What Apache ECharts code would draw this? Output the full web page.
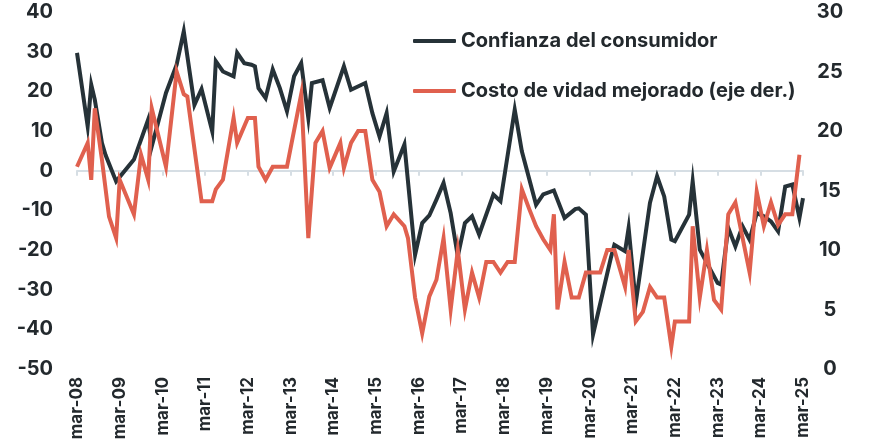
<!DOCTYPE html>
<html>
<head>
<meta charset="utf-8">
<script src="https://cdn.jsdelivr.net/npm/echarts@6/dist/echarts.min.js"></script>
<style>
  html, body { margin: 0; padding: 0; background: #fff; }
  #chart { width: 871px; height: 447px; }
</style>
</head>
<body>
<div id="chart"></div>
<script>
// months counted from mar-08 (0) to mar-25 (204)
var tickLabels = ['mar-08', 'mar-09', 'mar-10', 'mar-11', 'mar-12', 'mar-13', 'mar-14', 'mar-15', 'mar-16',
  'mar-17', 'mar-18', 'mar-19', 'mar-20', 'mar-21', 'mar-22', 'mar-23', 'mar-24', 'mar-25'];

// Confianza del consumidor (eje izq.)
var confMonths = [0, 3, 4, 5, 7, 8, 11, 16, 20, 21, 25, 28, 30, 33, 35, 38, 39, 41, 44, 45, 47, 49, 50,
  51, 53, 55, 57, 59, 61, 63, 65, 66, 69, 71, 75, 77, 81, 83, 85, 87, 89, 92, 95, 97, 99, 101, 103, 105,
  107, 109, 111, 113, 117, 119, 123, 125, 129, 131, 134, 137, 140, 141, 143, 145, 150, 151, 154, 155, 157,
  161, 163, 165, 167, 168, 172, 173, 175, 176, 180, 181, 183, 185, 187, 189, 191, 193, 195, 197, 199, 201,
  203, 204];
var confValues = [29.7, 11.2, 21.7, 17.9, 7, 4, -2.7, 2.8, 12.9, 6.1, 19.6, 26.7, 35.1, 16.6, 20.6, 9.9,
  27.6, 25, 23.8, 29.7, 27.1, 26.7, 26.3, 20.8, 18.3, 25.5, 20.8, 15, 23.8, 27.1, 13.3, 22.1, 22.8, 15.8,
  26.3, 20.4, 22.1, 14.5, 8.6, 14.5, -0.2, 6.6, -21.2, -13.2, -11.3, -7.3, -3.1, -10.7, -21.6, -13.2,
  -11.5, -16.1, -6, -7.7, 15.4, 4.9, -8.6, -6, -5, -11.9, -9.7, -9.5, -11.1, -41.3, -22, -18.7, -20.3,
  -14.4, -33.4, -8.1, -1.4, -6.5, -17.4, -17.8, -11.1, -2.7, -19.9, -21.6, -28.3, -28.7, -14.4, -19.1,
  -14, -17.4, -10.7, -11.5, -12.8, -15.3, -4, -3.5, -11.9, -6.9];

// Costo de vidad mejorado (eje der.)
var costMonths = [0, 3, 4, 5, 7, 9, 11, 12, 16, 18, 20, 21, 25, 28, 30, 31, 35, 38, 39, 41, 44, 45, 48,
  50, 51, 53, 55, 59, 63, 65, 67, 69, 71, 74, 75, 77, 79, 81, 83, 85, 87, 89, 92, 93, 95, 97, 99, 101,
  103, 105, 107, 109, 111, 113, 115, 117, 119, 121, 123, 125, 127, 129, 131, 133, 134, 135, 137, 139,
  141, 143, 147, 149, 151, 154, 155, 157, 159, 161, 163, 165, 167, 168, 172, 173, 175, 177, 179, 181,
  183, 185, 189, 191, 193, 195, 197, 199, 201, 203];
var costValues = [17, 19, 15.9, 21.9, 17.6, 12.8, 11, 15.9, 13, 18, 15.9, 21.9, 17, 25, 23.1, 22.9,
  14.1, 14.1, 15.1, 15.9, 21.1, 19, 21.1, 21.1, 17, 15.9, 17, 17, 23.1, 11, 19, 20, 16.9, 19, 16.9, 19,
  20, 20, 15.9, 14.9, 12, 13, 12, 11, 6, 3, 6.1, 7.5, 11, 5, 10, 5, 8.1, 6, 9, 9, 8.1, 9, 9, 15.1, 13.5,
  12, 10.9, 10, 13, 5, 9, 6, 6, 8.1, 8.1, 10, 10, 6.9, 10, 4, 4.8, 6.9, 6, 6, 1.9, 4, 4, 12, 6, 10, 5.8,
  5, 13, 14, 8.1, 14.9, 12, 14, 12.1, 13, 13, 18];

function pairs(xs, ys) {
  return xs.map(function(x, i) { return [x, ys[i]]; });
}

var textColor = '#23292d';
var font = 'Inter';
var chart = echarts.init(document.getElementById('chart'));

var option = {
  animation: false,
  textStyle: { fontFamily: font },
  grid: { left: 77, right: 68, top: 12, bottom: 78 },
  legend: {
    orient: 'vertical',
    left: 408,
    top: 26,
    itemWidth: 43,
    itemHeight: 4,
    itemGap: 30,
    icon: 'roundRect',
    textStyle: { color: textColor, fontSize: 20, fontWeight: 'bold', fontFamily: font },
    data: ['Confianza del consumidor', 'Costo de vidad mejorado (eje der.)']
  },
  xAxis: [{
    type: 'value',
    min: 0,
    max: 204,
    interval: 12,
    axisLine: { onZero: true, onZeroAxisIndex: 0, lineStyle: { color: '#d6dee4', width: 2 } },
    axisTick: { show: true, length: 5, lineStyle: { color: '#d6dee4', width: 2 } },
    axisLabel: { show: false },
    splitLine: { show: false }
  }, {
    type: 'value',
    position: 'bottom',
    min: 0,
    max: 204,
    interval: 12,
    axisLine: { show: false, onZero: false },
    axisTick: { show: false },
    splitLine: { show: false },
    axisLabel: {
      rotate: 90,
      margin: 8,
      color: textColor,
      fontSize: 17,
      fontWeight: 'bold',
      fontFamily: font,
      formatter: function(v) { return tickLabels[Math.round(v / 12)]; }
    }
  }],
  yAxis: [{
    type: 'value',
    min: -50,
    max: 40,
    interval: 10,
    axisLine: { show: false },
    axisTick: { show: false },
    splitLine: { show: false },
    axisLabel: { color: textColor, fontSize: 20, fontWeight: 'bold', fontFamily: font, margin: 24 }
  }, {
    type: 'value',
    min: 0,
    max: 30,
    interval: 5,
    position: 'right',
    axisLine: { show: false },
    axisTick: { show: false },
    splitLine: { show: false },
    axisLabel: { color: textColor, fontSize: 20, fontWeight: 'bold', fontFamily: font, margin: 27, align: 'center' }
  }],
  series: [{
    name: 'Confianza del consumidor',
    type: 'line',
    xAxisIndex: 0,
    yAxisIndex: 0,
    showSymbol: false,
    symbol: 'none',
    itemStyle: { color: '#263238' },
    lineStyle: { color: '#263238', width: 4, join: 'miter' },
    data: pairs(confMonths, confValues)
  }, {
    name: 'Costo de vidad mejorado (eje der.)',
    type: 'line',
    xAxisIndex: 0,
    yAxisIndex: 1,
    showSymbol: false,
    symbol: 'none',
    itemStyle: { color: '#e0604e' },
    lineStyle: { color: '#e0604e', width: 4, join: 'miter' },
    data: pairs(costMonths, costValues)
  }]
};

chart.setOption(option);
</script>
</body>
</html>
